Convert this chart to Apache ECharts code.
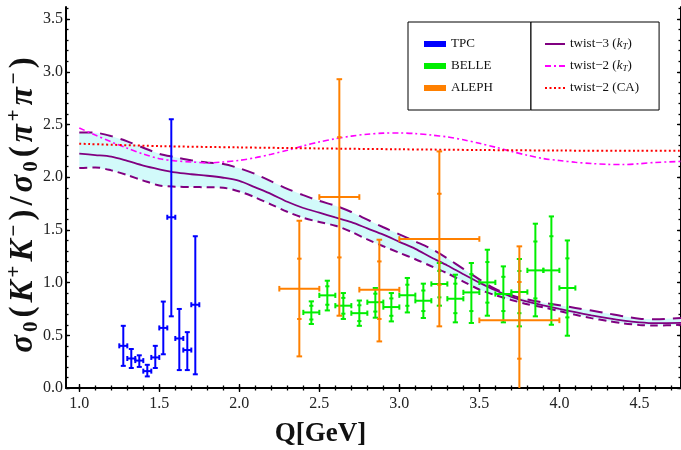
<!DOCTYPE html>
<html><head><meta charset="utf-8">
<script src="https://cdn.jsdelivr.net/npm/echarts@6/dist/echarts.min.js"></script>
<style>html,body{margin:0;padding:0;background:#fff}#c{width:681px;height:450px}</style>
</head><body><div id="c"></div>
<script>
// ---------------- data ----------------
const xTicks = [1.0, 1.5, 2.0, 2.5, 3.0, 3.5, 4.0, 4.5];
const yTicks = [0.0, 0.5, 1.0, 1.5, 2.0, 2.5, 3.0, 3.5];

// TPC
const tpcQ  = [1.275, 1.325, 1.375, 1.425, 1.475, 1.525, 1.575, 1.625, 1.675, 1.725];
const tpcDQ = [0.025, 0.025, 0.025, 0.025, 0.025, 0.025, 0.025, 0.025, 0.025, 0.025];
const tpcR  = [0.40, 0.28, 0.26, 0.16, 0.29, 0.57, 1.62, 0.47, 0.36, 0.79];
const tpcLo = [0.21, 0.19, 0.20, 0.11, 0.19, 0.32, 0.68, 0.17, 0.17, 0.13];
const tpcHi = [0.59, 0.37, 0.31, 0.22, 0.40, 0.82, 2.55, 0.75, 0.53, 1.44];

// BELLE
const belleQ  = [2.45, 2.55, 2.65, 2.75, 2.85, 2.95, 3.05, 3.15, 3.25, 3.35, 3.45, 3.55, 3.65, 3.75, 3.85, 3.95, 4.05];
const belleDQ = [0.05, 0.05, 0.05, 0.05, 0.05, 0.05, 0.05, 0.05, 0.05, 0.05, 0.05, 0.05, 0.05, 0.05, 0.05, 0.05, 0.05];
const belleR  = [0.717, 0.879, 0.781, 0.710, 0.814, 0.768, 0.880, 0.828, 0.987, 0.847, 0.907, 1.002, 0.892, 0.911, 1.116, 1.116, 0.949];
const belleLo = [0.607, 0.736, 0.655, 0.590, 0.667, 0.632, 0.717, 0.664, 0.781, 0.623, 0.617, 0.686, 0.623, 0.585, 0.680, 0.600, 0.496];
const belleHi = [0.822, 1.018, 0.901, 0.830, 0.949, 0.901, 1.044, 0.990, 1.186, 1.075, 1.186, 1.312, 1.154, 1.224, 1.559, 1.628, 1.400];
const belleInLo = [0.650, 0.790, 0.705, 0.635, 0.725, 0.685, 0.780, 0.730, 0.860, 0.710, 0.730, 0.810, 0.730, 0.710, 0.850, 0.790, 0.670];
const belleInHi = [0.780, 0.965, 0.855, 0.785, 0.895, 0.850, 0.980, 0.925, 1.110, 0.990, 1.080, 1.195, 1.055, 1.110, 1.390, 1.440, 1.230];

// ALEPH
const alephQ   = [2.375, 2.625, 2.875, 3.25, 3.75];
const alephQLo = [2.25, 2.50, 2.75, 3.00, 3.50];
const alephQHi = [2.50, 2.75, 3.00, 3.50, 4.00];
const alephR   = [0.942, 1.812, 0.933, 1.414, 0.642];
const alephLo  = [0.300, 0.686, 0.442, 0.585, -0.060];
const alephHi  = [1.587, 2.930, 1.407, 2.245, 1.344];
const alephInLo = [0.655, 1.239, 0.655, 0.980, 0.278];
const alephInHi = [1.227, 2.380, 1.201, 1.843, 1.006];

// theory curves
const curveX  = [1.0, 1.1, 1.2, 1.3, 1.4, 1.5, 1.6, 1.7, 1.8, 1.9, 2.0, 2.1, 2.2, 2.3, 2.4, 2.5, 2.6, 2.7, 2.8, 2.9,
                 3.0, 3.1, 3.2, 3.3, 3.4, 3.5, 3.6, 3.7, 3.8, 3.9, 4.0, 4.1, 4.2, 4.3, 4.4, 4.5, 4.6, 4.76];
const tw3     = [2.223, 2.210, 2.195, 2.155, 2.110, 2.075, 2.045, 2.028, 2.014, 1.995, 1.965, 1.903, 1.840, 1.767, 1.708, 1.664, 1.618, 1.574, 1.514, 1.455,
                 1.387, 1.320, 1.238, 1.163, 1.080, 1.000, 0.927, 0.865, 0.820, 0.784, 0.750, 0.719, 0.689, 0.662, 0.639, 0.623, 0.615, 0.617];
const tw3Up   = [2.425, 2.422, 2.390, 2.340, 2.280, 2.222, 2.190, 2.160, 2.140, 2.125, 2.085, 2.030, 1.960, 1.890, 1.830, 1.775, 1.730, 1.670, 1.597, 1.525,
                 1.458, 1.390, 1.320, 1.230, 1.130, 1.030, 0.940, 0.880, 0.840, 0.810, 0.785, 0.760, 0.735, 0.708, 0.680, 0.657, 0.652, 0.664];
const tw3Lo   = [2.087, 2.093, 2.065, 2.020, 1.968, 1.922, 1.910, 1.907, 1.905, 1.900, 1.865, 1.808, 1.740, 1.672, 1.615, 1.575, 1.540, 1.482, 1.410, 1.345,
                 1.283, 1.222, 1.155, 1.088, 1.010, 0.935, 0.880, 0.835, 0.795, 0.765, 0.730, 0.695, 0.663, 0.636, 0.613, 0.598, 0.592, 0.600];
const tw2kT   = [2.467, 2.400, 2.335, 2.275, 2.220, 2.176, 2.155, 2.145, 2.136, 2.145, 2.160, 2.185, 2.218, 2.255, 2.297, 2.335, 2.365, 2.390, 2.408, 2.418,
                 2.420, 2.414, 2.400, 2.382, 2.355, 2.322, 2.285, 2.245, 2.208, 2.177, 2.158, 2.142, 2.130, 2.122, 2.120, 2.128, 2.140, 2.150];
const caX     = [1.0, 1.5, 2.0, 2.5, 3.0, 3.5, 4.0, 4.5, 4.76];
const tw2CA   = [2.318, 2.295, 2.283, 2.273, 2.265, 2.258, 2.253, 2.250, 2.250];

// ---------------- chart ----------------
const XMIN = 0.917, XMAX = 4.76, YMIN = 0, YMAX = 3.615;
const SERIF = 'Liberation Serif';
const xMinor = [], yMinor = [];
for (let i = 10; i <= 47; i++) xMinor.push(i / 10);
for (let i = 0; i <= 36; i++) yMinor.push(i / 10);

const zip = (...arrs) => arrs[0].map((_, i) => arrs.map(a => a[i]));

function makeErr(color, capW, lw) {
  return function (params, api) {
    const cs = params.coordSys;
    const bot = cs.y + cs.height;
    const q = api.value(0), r = api.value(1);
    const q0 = api.value(2), q1 = api.value(3);
    const lo = api.value(4), hi = api.value(5);
    const ilo = api.value(6), ihi = api.value(7);
    const c = api.coord([q, r]);
    const xl = api.coord([q0, r])[0], xr = api.coord([q1, r])[0];
    const yt = api.coord([q, hi])[1];
    const ybRaw = api.coord([q, lo])[1];
    const yb = Math.min(bot, ybRaw);
    const st = { stroke: color, lineWidth: lw };
    const L = (x1, y1, x2, y2) => ({ type: 'line', shape: { x1, y1, x2, y2 }, style: st });
    const ch = [
      L(c[0], yt, c[0], yb),
      L(xl, c[1], xr, c[1]),
      L(c[0] - capW, yt, c[0] + capW, yt),
      L(xl, c[1] - capW, xl, c[1] + capW),
      L(xr, c[1] - capW, xr, c[1] + capW)
    ];
    if (ybRaw <= bot) ch.push(L(c[0] - capW, yb, c[0] + capW, yb));
    if (isFinite(ilo) && isFinite(ihi)) {
      const y1 = api.coord([q, ilo])[1], y2 = api.coord([q, ihi])[1];
      ch.push(L(c[0] - capW * 0.8, y1, c[0] + capW * 0.8, y1));
      ch.push(L(c[0] - capW * 0.8, y2, c[0] + capW * 0.8, y2));
    }
    return { type: 'group', children: ch };
  };
}

const tpcData = tpcQ.map((q, i) => [q, tpcR[i], q - tpcDQ[i], q + tpcDQ[i], tpcLo[i], tpcHi[i]]);
const belleData = belleQ.map((q, i) => [q, belleR[i], q - belleDQ[i], q + belleDQ[i], belleLo[i], belleHi[i], belleInLo[i], belleInHi[i]]);
const alephData = alephQ.map((q, i) => [q, alephR[i], alephQLo[i], alephQHi[i], alephLo[i], alephHi[i], alephInLo[i], alephInHi[i]]);

const PURPLE = '#800080';

function xAx(pos, major) {
  return {
    type: 'value', min: XMIN, max: XMAX, position: pos,
    axisLine: { show: major, lineStyle: { color: '#000', width: 2 } },
    axisTick: { show: true, inside: true, length: major ? 4 : 2.5, customValues: major ? xTicks : xMinor,
                lineStyle: { color: '#000', width: 1.3 } },
    axisLabel: (major && pos === 'bottom') ? {
      show: true, customValues: xTicks, formatter: v => Number(v).toFixed(1), margin: 8,
      fontFamily: SERIF, fontSize: 16, color: '#222'
    } : { show: false },
    splitLine: { show: false }
  };
}
function yAx(pos, major) {
  return {
    type: 'value', min: YMIN, max: YMAX, position: pos,
    axisLine: { show: major, lineStyle: { color: '#000', width: 2 } },
    axisTick: { show: true, inside: true, length: major ? 4 : 2.5, customValues: major ? yTicks : yMinor,
                lineStyle: { color: '#000', width: 1.3 } },
    axisLabel: (major && pos === 'left') ? {
      show: true, customValues: yTicks, formatter: v => Number(v).toFixed(1), margin: 3,
      fontFamily: SERIF, fontSize: 16, color: '#222'
    } : { show: false },
    splitLine: { show: false }
  };
}

const xMain = xAx('bottom', true);
xMain.name = 'Q[GeV]';
xMain.nameLocation = 'middle';
xMain.nameGap = 31;
xMain.nameMoveOverlap = false;
xMain.nameTextStyle = { fontFamily: SERIF, fontWeight: 'bold', fontSize: 27, color: '#111',
                        lineHeight: 30, padding: [0, 106, 0, 0] };

const yMain = yAx('left', true);
yMain.name = '{s|σ}{b|0}{n|(}{s|K}{p|+}{s|K}{p|−}{n|)}{n|/}{s|σ}{b|0}{n|(}{s|π}{p|+}{s|π}{p|−}{n|)}';
yMain.nameLocation = 'middle';
yMain.nameRotate = 90;
yMain.nameGap = 24;
yMain.nameMoveOverlap = false;
const big = 33;
yMain.nameTextStyle = {
  padding: [0, 15, 0, 0],
  rich: {
    s: { fontFamily: SERIF, fontWeight: 'bold', fontStyle: 'italic', fontSize: big, lineHeight: 38, color: '#111', padding: [0, 2, 0, 2] },
    n: { fontFamily: SERIF, fontWeight: 'bold', fontSize: big, lineHeight: 38, color: '#111', padding: [0, 2, 0, 2] },
    p: { fontFamily: SERIF, fontWeight: 'bold', fontSize: 21, lineHeight: 25, verticalAlign: 'top', color: '#111', padding: [0, 2, 0, 1] },
    b: { fontFamily: SERIF, fontWeight: 'bold', fontSize: 21, lineHeight: 20, verticalAlign: 'bottom', color: '#111', padding: [0, 2, 0, 1] }
  }
};

const legendText = {
  'TPC': 'TPC', 'BELLE': 'BELLE', 'ALEPH': 'ALEPH',
  'twist-3 (kT)': '{a|twist−3 (}{i|k}{t|T}{a|)}',
  'twist-2 (kT)': '{a|twist−2 (}{i|k}{t|T}{a|)}',
  'twist-2 (CA)': '{a|twist−2 (CA)}'
};
const legRich = {
  a: { fontFamily: SERIF, fontSize: 13, color: '#111', lineHeight: 14 },
  i: { fontFamily: SERIF, fontSize: 13, fontStyle: 'italic', color: '#111', lineHeight: 14 },
  t: { fontFamily: SERIF, fontSize: 9, fontStyle: 'italic', color: '#111', lineHeight: 10, verticalAlign: 'bottom' }
};

const option = {
  animation: false,
  backgroundColor: '#fff',
  grid: { left: 66, top: 7, width: 615, height: 381, containLabel: false, outerBoundsMode: 'none' },
  xAxis: [xMain, xAx('bottom', false), xAx('top', true), xAx('top', false)],
  yAxis: [yMain, yAx('left', false), yAx('right', true), yAx('right', false)],
  legend: [
    {
      data: ['TPC', 'BELLE', 'ALEPH'], orient: 'vertical', left: 408, top: 22,
      icon: 'rect', itemWidth: 22, itemHeight: 6, itemGap: 8,
      padding: [15, 38, 15, 16], borderColor: '#000', borderWidth: 1, backgroundColor: '#fff',
      textStyle: { fontFamily: SERIF, fontSize: 13, color: '#111', lineHeight: 14 },
      formatter: n => legendText[n]
    },
    {
      data: ['twist-3 (kT)', 'twist-2 (kT)', 'twist-2 (CA)'], orient: 'vertical', left: 531, top: 22,
      itemWidth: 20, itemHeight: 14, itemGap: 8,
      itemStyle: { opacity: 0 },
      padding: [15, 20, 15, 13], borderColor: '#000', borderWidth: 1, backgroundColor: '#fff',
      textStyle: { fontFamily: SERIF, fontSize: 13, color: '#111', lineHeight: 14, rich: legRich },
      formatter: n => legendText[n]
    }
  ],
  series: [
    {
      name: 'band', type: 'custom', data: [[curveX[0], tw3Lo[0]]], z: 1, silent: true, clip: true,
      renderItem: function (params, api) {
        const pts = [];
        for (let i = 0; i < curveX.length; i++) pts.push(api.coord([curveX[i], Math.max(tw3Up[i], tw3Lo[i])]));
        for (let i = curveX.length - 1; i >= 0; i--) pts.push(api.coord([curveX[i], Math.min(tw3Up[i], tw3Lo[i])]));
        return { type: 'polygon', shape: { points: pts, smooth: 0 }, style: { fill: '#d2fafa', stroke: null } };
      }
    },
    { name: 'upper', type: 'line', data: zip(curveX, tw3Up), symbol: 'none', smooth: 0.3, z: 3,
      lineStyle: { color: PURPLE, width: 2, type: [13, 8] } },
    { name: 'lower', type: 'line', data: zip(curveX, tw3Lo), symbol: 'none', smooth: 0.3, z: 3,
      lineStyle: { color: PURPLE, width: 2, type: [8, 5] } },
    { name: 'twist-3 (kT)', type: 'line', data: zip(curveX, tw3), symbol: 'none', smooth: 0.3, z: 3,
      itemStyle: { color: PURPLE }, lineStyle: { color: PURPLE, width: 1.8 } },
    { name: 'twist-2 (kT)', type: 'line', data: zip(curveX, tw2kT), symbol: 'none', smooth: 0.3, z: 3,
      itemStyle: { color: '#ff00ff' }, lineStyle: { color: '#ff00ff', width: 1.6, type: [6, 3, 2, 3] } },
    { name: 'twist-2 (CA)', type: 'line', data: zip(caX, tw2CA), symbol: 'none', smooth: 0.3, z: 3,
      itemStyle: { color: '#ff0000' }, lineStyle: { color: '#ff0000', width: 2, type: [2, 2.5] } },
    { name: 'TPC', type: 'custom', data: tpcData, z: 5, clip: true, itemStyle: { color: '#0000ff' },
      encode: { x: [0, 2, 3], y: [1, 4, 5] }, renderItem: makeErr('#0000ff', 2.5, 2) },
    { name: 'BELLE', type: 'custom', data: belleData, z: 5, clip: true, itemStyle: { color: '#00ee00' },
      encode: { x: [0, 2, 3], y: [1, 4, 5] }, renderItem: makeErr('#00ee00', 2.6, 2) },
    { name: 'ALEPH', type: 'custom', data: alephData, z: 6, clip: true, itemStyle: { color: '#ff8000' },
      encode: { x: [0, 2, 3], y: [1, 4, 5] }, renderItem: makeErr('#ff8000', 2.8, 2) }
  ]
};

const chart = echarts.init(document.getElementById('c'), null, { renderer: 'canvas' });
chart.setOption(option);
</script>
</body></html>
